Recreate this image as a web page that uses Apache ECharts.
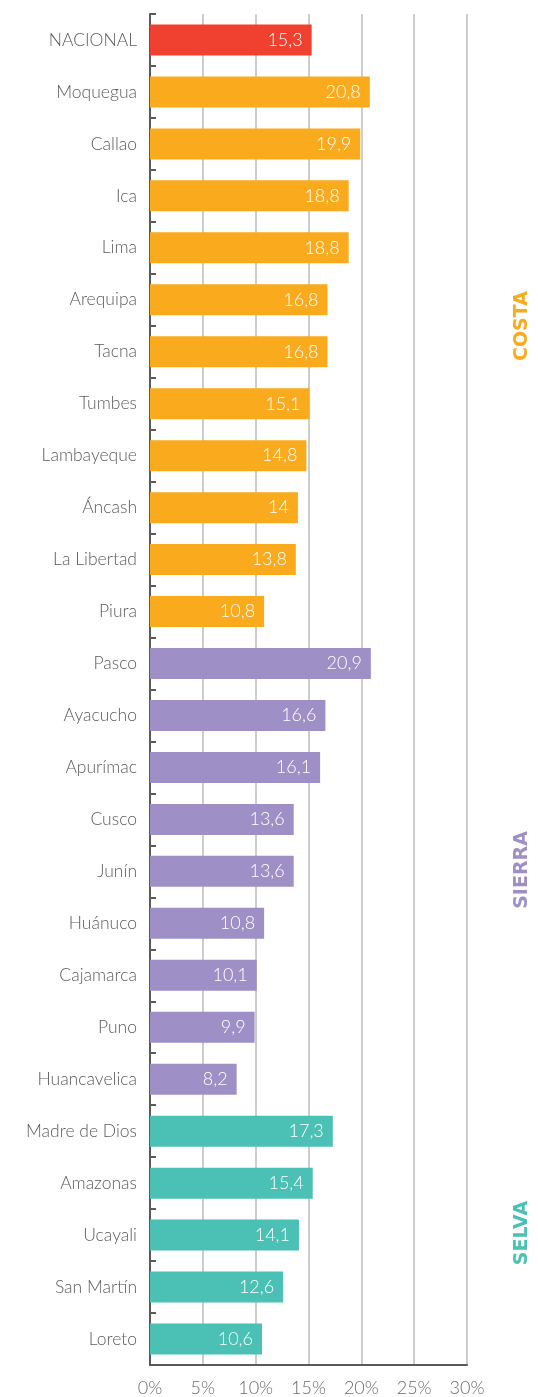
<!DOCTYPE html>
<html>
<head>
<meta charset="utf-8">
<script src="https://cdn.jsdelivr.net/npm/echarts@6/dist/echarts.min.js"></script>
<style>
  html, body { margin: 0; padding: 0; background: #fff; }
  #chart { width: 538px; height: 1397px; }
</style>
</head>
<body>
<div id="chart"></div>
<script>
// Regions (departments grouped by natural region) and their percentages
const categories = [
  'NACIONAL',
  'Moquegua', 'Callao', 'Ica', 'Lima', 'Arequipa', 'Tacna', 'Tumbes',
  'Lambayeque', 'Áncash', 'La Libertad', 'Piura',
  'Pasco', 'Ayacucho', 'Apurímac', 'Cusco', 'Junín', 'Huánuco',
  'Cajamarca', 'Puno', 'Huancavelica',
  'Madre de Dios', 'Amazonas', 'Ucayali', 'San Martín', 'Loreto'
];
const values = [
  15.3,
  20.8, 19.9, 18.8, 18.8, 16.8, 16.8, 15.1, 14.8, 14, 13.8, 10.8,
  20.9, 16.6, 16.1, 13.6, 13.6, 10.8, 10.1, 9.9, 8.2,
  17.3, 15.4, 14.1, 12.6, 10.6
];
const groups = [
  'nacional',
  'costa', 'costa', 'costa', 'costa', 'costa', 'costa', 'costa', 'costa', 'costa', 'costa', 'costa',
  'sierra', 'sierra', 'sierra', 'sierra', 'sierra', 'sierra', 'sierra', 'sierra', 'sierra',
  'selva', 'selva', 'selva', 'selva', 'selva'
];
const tickValues = [0, 5, 10, 15, 20, 25, 30];
const regionNames = ['COSTA', 'SIERRA', 'SELVA'];

const colors = {
  nacional: '#EF4030',
  costa: '#F9AA1D',
  sierra: '#9E90C6',
  selva: '#4BC1B6'
};

const FONT = 'Lato, "Open Sans", sans-serif';
const REGION_FONT = 'bold 19px "DejaVu Sans", sans-serif';

const chart = echarts.init(document.getElementById('chart'), null, { renderer: 'canvas' });

const option = {
  backgroundColor: '#ffffff',
  animation: false,
  grid: { left: 150, right: 71, top: 14, bottom: 32, containLabel: false },
  xAxis: {
    type: 'value',
    min: tickValues[0],
    max: tickValues[tickValues.length - 1],
    interval: 5,
    axisLine: { show: true, lineStyle: { color: '#5a5a5a', width: 2 } },
    axisTick: { show: false },
    axisLabel: {
      formatter: v => v + '%',
      color: '#6b6b6b',
      fontFamily: FONT,
      fontWeight: 300,
      fontSize: 18,
      margin: 14
    },
    splitLine: { show: true, lineStyle: { color: '#bdbdbd', width: 1.5 } }
  },
  yAxis: {
    type: 'category',
    inverse: true,
    data: categories,
    boundaryGap: true,
    axisLine: { show: true, lineStyle: { color: '#5a5a5a', width: 2 } },
    axisTick: { show: true, inside: true, length: 6, lineStyle: { color: '#5a5a5a', width: 2 } },
    axisLabel: {
      color: '#5c5c5c',
      fontFamily: FONT,
      fontWeight: 300,
      fontSize: 17.5,
      margin: 13
    }
  },
  series: [{
    type: 'bar',
    barWidth: 31,
    data: values.map((v, i) => ({
      value: v,
      itemStyle: { color: colors[groups[i]] }
    })),
    label: {
      show: true,
      position: 'insideRight',
      distance: 9,
      color: '#ffffff',
      fontFamily: FONT,
      fontWeight: 300,
      fontSize: 18,
      formatter: p => String(p.value).replace('.', ',')
    }
  }],
  graphic: [
    { type: 'text', x: 522, y: 326, rotation: Math.PI / 2,
      style: { text: regionNames[0], fill: colors.costa, font: REGION_FONT, align: 'center', verticalAlign: 'middle' } },
    { type: 'text', x: 522, y: 870, rotation: Math.PI / 2,
      style: { text: regionNames[1], fill: colors.sierra, font: REGION_FONT, align: 'center', verticalAlign: 'middle' } },
    { type: 'text', x: 522, y: 1233, rotation: Math.PI / 2,
      style: { text: regionNames[2], fill: colors.selva, font: REGION_FONT, align: 'center', verticalAlign: 'middle' } }
  ]
};

chart.setOption(option);
</script>
</body>
</html>
